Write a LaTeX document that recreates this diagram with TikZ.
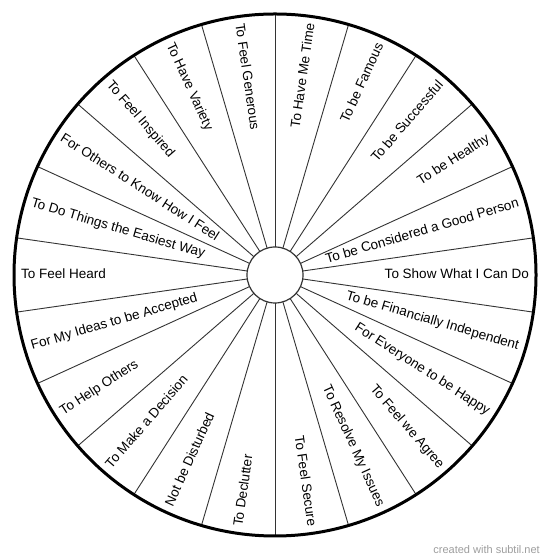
\documentclass[tikz,border=0pt]{standalone}
\usepackage{fontspec}
\setmainfont{Liberation Sans}
\usetikzlibrary{calc}
\begin{document}
\begin{tikzpicture}[x=1bp,y=1bp,
  lbl/.style={font=\fontsize{13.5bp}{16bp}\selectfont, inner sep=0pt, text=black},
  divider/.style={draw=black!80, line width=0.9bp},
  rim/.style={draw=black, line width=3bp},
  hub/.style={draw=black!80, line width=1.2bp, fill=white},
  credit/.style={font=\fontsize{11bp}{13bp}\selectfont, text=black!38, inner sep=0pt}]
\useasboundingbox (0,0) rectangle (550,559);
\fill[white] (0,0) rectangle (550,559);
\coordinate (C) at (275,284);
\foreach \i in {0,...,21}{
  \pgfmathsetmacro\dang{(\i+0.5)*360/22}
  \draw[divider] ($(C)+(\dang:28)$) -- ($(C)+(\dang:261)$);
}
\draw[rim] (C) circle (261);
\draw[hub] (C) circle (28);
\foreach \k/\t in {
  0/To Show What I Can Do,
  1/To be Considered a Good Person,
  2/To be Healthy,
  3/To be Successful,
  4/To be Famous,
  5/To Have Me Time,
  6/To Feel Generous,
  7/To Have Variety,
  8/To Feel Inspired,
  9/For Others to Know How I Feel,
  10/To Do Things the Easiest Way,
  11/To Feel Heard,
  12/For My Ideas to be Accepted,
  13/To Help Others,
  14/To Make a Decision,
  15/Not be Disturbed,
  16/To Declutter,
  17/To Feel Secure,
  18/To Resolve My Issues,
  19/To Feel we Agree,
  20/For Everyone to be Happy,
  21/To be Financially Independent}{
  \pgfmathsetmacro\ang{\k*360/22}
  \ifnum\k>5 \ifnum\k<17
    \node[lbl, rotate=\ang+180, anchor=base west] (n\k) at ($(C)+(\ang:254)+({\ang+90}:3.5)$) {\t};
  \else
    \node[lbl, rotate=\ang, anchor=base east] (n\k) at ($(C)+(\ang:254)+({\ang-90}:3.5)$) {\t};
  \fi
  \else
    \node[lbl, rotate=\ang, anchor=base east] (n\k) at ($(C)+(\ang:254)+({\ang-90}:3.5)$) {\t};
  \fi
}
\node[credit, anchor=base east] (credit) at (540,5) {created with subtil.net};
\end{tikzpicture}
\end{document}
